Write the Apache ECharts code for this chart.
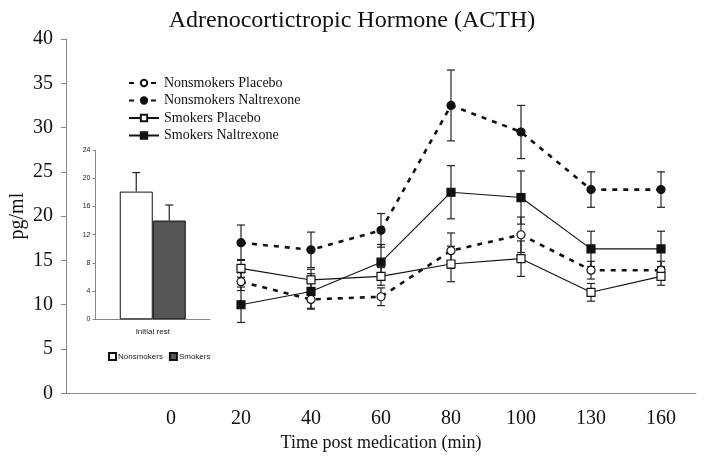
<!DOCTYPE html>
<html><head><meta charset="utf-8">
<script src="https://cdn.jsdelivr.net/npm/echarts@6/dist/echarts.min.js"></script>
<style>html,body{margin:0;padding:0;background:#fff}#c{width:704px;height:464px}</style>
</head><body><div id="c"></div>
<script>
var categories = ['', '0', '20', '40', '60', '80', '100', '130', '160'];
var yTicks = [0, 5, 10, 15, 20, 25, 30, 35, 40];
var nsPlacebo      = [null, null, 12.6, 10.6, 10.9, 16.1, 17.9, 13.9, 13.9];
var nsPlaceboErr   = [null, null, 1.0, 1.0, 1.0, 2.0, 2.0, 1.0, 1.0];
var nsNaltrexone   = [null, null, 17.0, 16.2, 18.4, 32.5, 29.5, 23.0, 23.0];
var nsNaltrexoneErr= [null, null, 2.0, 2.0, 1.9, 4.0, 3.0, 2.0, 2.0];
var sPlacebo       = [null, null, 14.1, 12.8, 13.2, 14.6, 15.2, 11.4, 13.2];
var sPlaceboErr    = [null, null, 1.0, 1.2, 1.0, 2.0, 2.0, 1.0, 1.0];
var sNaltrexone    = [null, null, 10.0, 11.5, 14.8, 22.7, 22.1, 16.3, 16.3];
var sNaltrexoneErr = [null, null, 2.0, 2.0, 2.0, 3.0, 3.0, 2.0, 2.0];

var insetCategories = ['Initial rest'];
var insetNonsmokers = [18.1];
var insetNonsmokersErr = [2.7];
var insetSmokers = [14.0];
var insetSmokersErr = [2.2];

var serif = 'Liberation Serif';
var sans = 'Liberation Sans';

function errData(vals, errs) {
  var out = [];
  for (var i = 0; i < vals.length; i++) if (vals[i] != null) out.push([i, vals[i], errs[i]]);
  return out;
}
function errRender(upOnly, capW) {
  return function (params, api) {
    var x = api.value(0), v = api.value(1), e = api.value(2);
    var top = api.coord([x, v + e]);
    var bot = api.coord(upOnly ? [x, v] : [x, v - e]);
    var st = {stroke: '#222', lineWidth: 1.2};
    var ch = [
      {type: 'line', shape: {x1: top[0], y1: top[1], x2: bot[0], y2: bot[1]}, style: st},
      {type: 'line', shape: {x1: top[0] - capW, y1: top[1], x2: top[0] + capW, y2: top[1]}, style: st}
    ];
    if (!upOnly) ch.push({type: 'line', shape: {x1: bot[0] - capW, y1: bot[1], x2: bot[0] + capW, y2: bot[1]}, style: st});
    return {type: 'group', children: ch};
  };
}

var chart = echarts.init(document.getElementById('c'));
var dashed = {color: '#111', width: 2.6, type: [5, 6]};
var solid = {color: '#111', width: 1.1, type: 'solid'};
function lineSeries(name, data, symbol, filled, ls) {
  return {
    name: name, type: 'line', xAxisIndex: 0, yAxisIndex: 0, data: data,
    symbol: symbol, symbolSize: 8, z: 5,
    itemStyle: {color: filled ? '#111' : '#fff', borderColor: '#111', borderWidth: 1.2},
    lineStyle: ls, connectNulls: false
  };
}
var option = {
  backgroundColor: '#fff',
  animation: false,
  title: {text: 'Adrenocortictropic Hormone (ACTH)', left: 'center', top: 4,
    textStyle: {fontFamily: serif, fontSize: 24, fontWeight: 'normal', color: '#111'}},
  legend: [{
    data: ['Nonsmokers Placebo', 'Nonsmokers Naltrexone', 'Smokers Placebo', 'Smokers Naltrexone'],
    orient: 'vertical', left: 123, top: 71, itemWidth: 30, itemHeight: 8, itemGap: 3.5,
    textStyle: {fontFamily: serif, fontSize: 14, color: '#111'}
  }, {
    data: ['Nonsmokers', 'Smokers'], icon: 'rect',
    orient: 'horizontal', left: 103, top: 347, itemWidth: 7, itemHeight: 7, itemGap: 6,
    textStyle: {fontFamily: sans, fontSize: 8, color: '#222', padding: [0, 0, 0, -3]}
  }],
  grid: [
    {left: 66, right: 8, top: 39, bottom: 70.7, containLabel: false, outerBoundsMode: 'none'},
    {left: 95.5, top: 150, width: 114.5, height: 169.3, containLabel: false, outerBoundsMode: 'none'}
  ],
  xAxis: [{
    gridIndex: 0, type: 'category', data: categories, boundaryGap: true,
    axisLine: {lineStyle: {color: '#888', width: 1}},
    axisTick: {interval: 0, length: 4, lineStyle: {color: '#888'}},
    axisLabel: {interval: 0, margin: 15, fontFamily: serif, fontSize: 20, color: '#111'},
    name: 'Time post medication (min)', nameLocation: 'middle', nameGap: 41, nameMoveOverlap: false,
    nameTextStyle: {fontFamily: serif, fontSize: 18, color: '#111'}
  }, {
    gridIndex: 1, type: 'category', data: insetCategories,
    axisLine: {lineStyle: {color: '#888'}}, axisTick: {show: false},
    axisLabel: {margin: 8, fontFamily: sans, fontSize: 8, color: '#222'}
  }],
  yAxis: [{
    gridIndex: 0, type: 'value', min: 0, max: 40, interval: 5,
    axisLine: {show: true, lineStyle: {color: '#888'}},
    axisTick: {show: true, length: 5, lineStyle: {color: '#888'}},
    splitLine: {show: false},
    axisLabel: {margin: 13, fontFamily: serif, fontSize: 20, color: '#111',
      formatter: function (v) { return yTicks.indexOf(v) >= 0 ? String(v) : ''; }},
    name: 'pg/ml', nameLocation: 'middle', nameGap: 38, nameRotate: 90, nameMoveOverlap: false,
    nameTextStyle: {fontFamily: serif, fontSize: 20, color: '#111'}
  }, {
    gridIndex: 1, type: 'value', min: 0, max: 24, interval: 4,
    axisLine: {show: true, lineStyle: {color: '#888'}},
    axisTick: {show: true, length: 3, lineStyle: {color: '#888'}},
    splitLine: {show: false},
    axisLabel: {margin: 5, fontFamily: sans, fontSize: 7, color: '#222'}
  }],
  series: [
    lineSeries('Nonsmokers Placebo', nsPlacebo, 'circle', false, dashed),
    lineSeries('Nonsmokers Naltrexone', nsNaltrexone, 'circle', true, dashed),
    lineSeries('Smokers Placebo', sPlacebo, 'rect', false, solid),
    lineSeries('Smokers Naltrexone', sNaltrexone, 'rect', true, solid),
    {type: 'custom', xAxisIndex: 0, yAxisIndex: 0, z: 3, renderItem: errRender(false, 4),
      data: errData(nsPlacebo, nsPlaceboErr).concat(errData(nsNaltrexone, nsNaltrexoneErr), errData(sPlacebo, sPlaceboErr), errData(sNaltrexone, sNaltrexoneErr))},
    {name: 'Nonsmokers', type: 'bar', xAxisIndex: 1, yAxisIndex: 1, data: insetNonsmokers,
      barWidth: 33, barGap: '0%', itemStyle: {color: '#fff', borderColor: '#111', borderWidth: 1}},
    {name: 'Smokers', type: 'bar', xAxisIndex: 1, yAxisIndex: 1, data: insetSmokers,
      barWidth: 33, barGap: '0%', itemStyle: {color: '#555', borderColor: '#111', borderWidth: 1}},
    {type: 'custom', xAxisIndex: 1, yAxisIndex: 1, z: 3, renderItem: function (params, api) {
        var idx = params.dataIndex;
        var off = idx === 0 ? -16.5 : 16.5;
        var x = api.value(0), v = api.value(1), e = api.value(2);
        var top = api.coord([x, v + e]), bot = api.coord([x, v]);
        var st = {stroke: '#222', lineWidth: 1.2};
        return {type: 'group', children: [
          {type: 'line', shape: {x1: top[0] + off, y1: top[1], x2: bot[0] + off, y2: bot[1]}, style: st},
          {type: 'line', shape: {x1: top[0] + off - 4, y1: top[1], x2: top[0] + off + 4, y2: top[1]}, style: st}
        ]};
      },
      data: [[0, insetNonsmokers[0], insetNonsmokersErr[0]], [0, insetSmokers[0], insetSmokersErr[0]]]}
  ]
};
chart.setOption(option);
</script></body></html>
